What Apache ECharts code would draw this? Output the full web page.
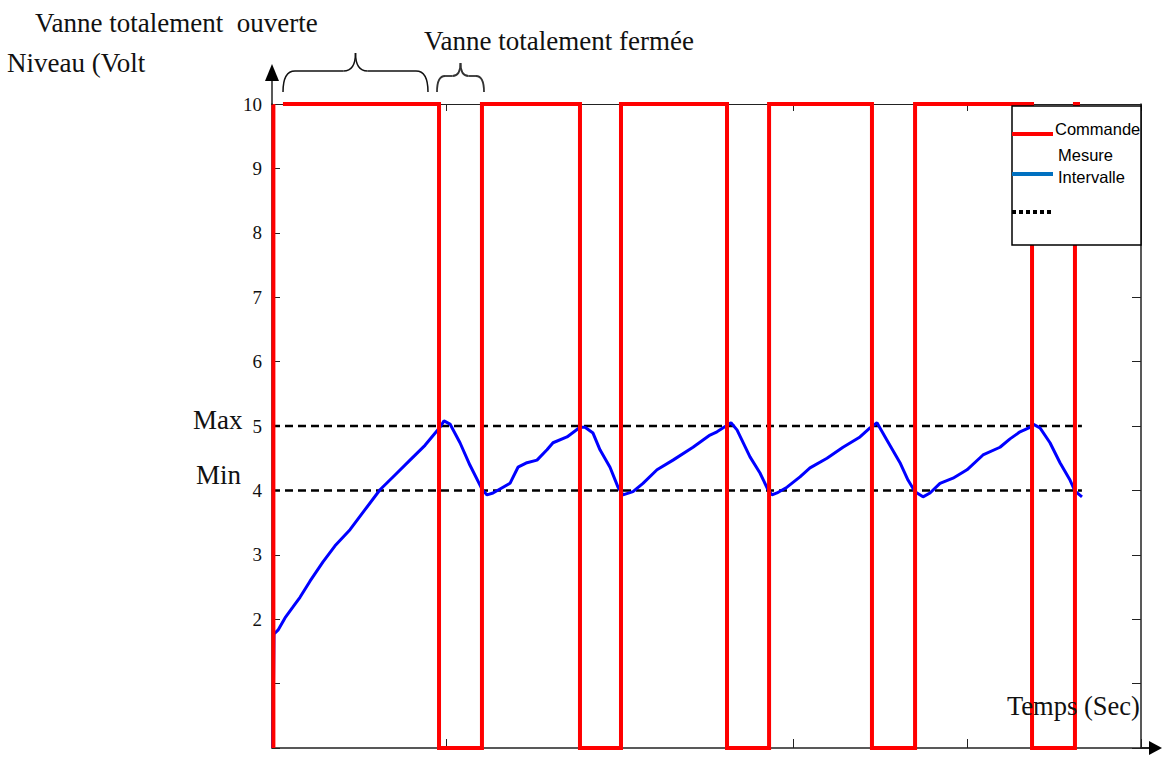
<!DOCTYPE html>
<html>
<head>
<meta charset="utf-8">
<script src="https://cdn.jsdelivr.net/npm/echarts@6/dist/echarts.min.js"></script>
<style>
html,body{margin:0;padding:0;background:#fff;}
#chart{width:1162px;height:758px;}
</style>
</head>
<body>
<div id="chart"></div>
<script>
// ---- Data (time axis in arbitrary seconds 0..500, level in volts) ----
var yTickLabels = ['', '', '2', '3', '4', '5', '6', '7', '8', '9', '10'];

// Commande (square wave): switch instants and level after each switch
var commandeTimes  = [0.8, 96.1, 120.8, 177.2, 200.8, 261.8, 286.0, 345.2, 370.0, 437.3, 462.0];
var commandeLevels = [10,   0,    10,    0,     10,    0,     10,    0,     10,    0,     10];
var commandeFirstTopStart = 6.3;   // first top segment visibly starts a little after the rise
var commandeEnd = 464.9;

// Mesure (measured level)
var mesureT = [0.5, 1.15, 3.45, 7.48, 12.08, 16.11, 21.86, 29.34, 36.25, 44.88, 53.51, 62.14, 70.77, 79.40, 88.03, 96.66, 98.96,
  102.42, 108.17, 113.92, 120.83, 123.71, 127.16, 136.94, 141.54, 146.72, 152.47, 158.23, 161.68, 169.74, 177.22, 180.09,
  184.70, 188.72, 194.48, 199.08, 201.96, 207.71, 213.46, 221.52, 230.72, 242.23, 252.01, 256.04, 264.10,
  267.55, 275.03, 280.78, 285.39, 287.69, 290.56, 296.32, 303.80, 309.55, 319.33, 328.54, 338.32, 344.07, 348.10,
  353.85, 361.33, 365.94, 369.97, 374.57, 378.60, 384.35, 391.83, 399.88, 409.09, 418.87, 424.63, 430.38, 436.13, 437.86,
  441.89, 447.64, 453.39, 459.15, 462.03, 466.05];
var mesureV = [0, 1.77, 1.83, 2.02, 2.19, 2.34, 2.59, 2.89, 3.14, 3.39, 3.70, 4.01, 4.24, 4.47, 4.70, 4.98, 5.08,
  5.03, 4.74, 4.39, 4.02, 3.93, 3.96, 4.11, 4.36, 4.43, 4.47, 4.63, 4.74, 4.83, 4.98, 4.98,
  4.89, 4.63, 4.36, 4.05, 3.93, 3.98, 4.11, 4.32, 4.47, 4.67, 4.86, 4.91, 5.05,
  4.94, 4.52, 4.27, 4.01, 3.93, 3.96, 4.05, 4.21, 4.35, 4.50, 4.67, 4.83, 4.97, 5.05,
  4.78, 4.43, 4.16, 3.98, 3.90, 3.96, 4.11, 4.19, 4.32, 4.55, 4.67, 4.80, 4.91, 4.98, 5.03,
  4.97, 4.74, 4.43, 4.16, 3.99, 3.90];

// Intervalle (Max / Min thresholds)
var intervalleLevels = [5, 4];
var intervalleStart = 0;
var intervalleEnd = 466;

// ---- Build series data ----
var commandeData = [[commandeTimes[0], 0], [commandeTimes[0], commandeLevels[0]],
                    [commandeTimes[0], null], [commandeFirstTopStart, commandeLevels[0]]];
for (var i = 1; i < commandeTimes.length; i++) {
  commandeData.push([commandeTimes[i], commandeLevels[i - 1]]);
  commandeData.push([commandeTimes[i], commandeLevels[i]]);
}
commandeData.push([commandeEnd, commandeLevels[commandeLevels.length - 1]]);

var mesureData = mesureT.map(function (t, k) { return [t, mesureV[k]]; });

var serif = 'Liberation Serif';
var chart = echarts.init(document.getElementById('chart'), null, {renderer: 'svg'});

var dashedSeries = intervalleLevels.map(function (lv) {
  return {
    name: 'Intervalle', type: 'line', showSymbol: false, silent: true, z: 2,
    data: [[intervalleStart, lv], [intervalleEnd, lv]],
    lineStyle: {color: '#000', width: 2.5, type: [8, 5]}
  };
});

// curly brace decoration built from curve pieces
function brace(x1, x2, yLine, yTip, yEnd, r, color, lw) {
  var xm = (x1 + x2) / 2;
  var st = {stroke: color, lineWidth: lw, fill: null};
  return [
    {type: 'bezierCurve', z: 100, shape: {x1: x1, y1: yEnd, cpx1: x1, cpy1: yLine, x2: x1 + r, y2: yLine}, style: st},
    {type: 'line', z: 100, shape: {x1: x1 + r, y1: yLine, x2: xm - r, y2: yLine}, style: st},
    {type: 'bezierCurve', z: 100, shape: {x1: xm - r, y1: yLine, cpx1: xm, cpy1: yLine, x2: xm, y2: yTip}, style: st},
    {type: 'bezierCurve', z: 100, shape: {x1: xm, y1: yTip, cpx1: xm, cpy1: yLine, x2: xm + r, y2: yLine}, style: st},
    {type: 'line', z: 100, shape: {x1: xm + r, y1: yLine, x2: x2 - r, y2: yLine}, style: st},
    {type: 'bezierCurve', z: 100, shape: {x1: x2 - r, y1: yLine, cpx1: x2, cpy1: yLine, x2: x2, y2: yEnd}, style: st}
  ];
}

var tf = '27px "Liberation Serif"';
var graphics = [
  // texts
  {type: 'text', left: 35, top: 9, z: 100, style: {text: 'Vanne totalement  ouverte', font: tf, fill: '#111'}},
  {type: 'text', left: 7, top: 49, z: 100, style: {text: 'Niveau (Volt', font: tf, fill: '#111'}},
  {type: 'text', left: 424, top: 27, z: 100, style: {text: 'Vanne totalement fermée', font: tf, fill: '#111'}},
  {type: 'text', left: 193, top: 406, z: 100, style: {text: 'Max', font: tf, fill: '#111'}},
  {type: 'text', left: 196, top: 461, z: 100, style: {text: 'Min', font: tf, fill: '#111'}},
  {type: 'text', left: 1007, top: 692, z: 100, style: {text: 'Temps (Sec)', font: '26.5px "Liberation Serif"', fill: '#111'}},
  // axis arrows
  {type: 'line', z: 100, shape: {x1: 272, y1: 105, x2: 272, y2: 78}, style: {stroke: '#222', lineWidth: 1.5}},
  {type: 'polygon', z: 100, shape: {points: [[265, 81], [279, 81], [272, 64]]}, style: {fill: '#000'}},
  {type: 'line', z: 100, shape: {x1: 1140, y1: 748, x2: 1152, y2: 748}, style: {stroke: '#222', lineWidth: 2}},
  {type: 'polygon', z: 100, shape: {points: [[1149, 741], [1149, 755], [1162, 748]]}, style: {fill: '#000'}},
  // legend box
  {type: 'rect', z: 100, shape: {x: 1012, y: 106, width: 129, height: 139}, style: {fill: '#fff', stroke: '#000', lineWidth: 1.5}},
  {type: 'line', z: 101, shape: {x1: 1012, y1: 134, x2: 1053, y2: 134}, style: {stroke: '#ff0000', lineWidth: 4}},
  {type: 'text', z: 101, left: 1055, top: 120, style: {text: 'Commande', font: '16.5px "Liberation Sans"', fill: '#000'}},
  {type: 'text', z: 101, left: 1058, top: 146, style: {text: 'Mesure', font: '16.5px "Liberation Sans"', fill: '#000'}},
  {type: 'line', z: 101, shape: {x1: 1012, y1: 174, x2: 1053, y2: 174}, style: {stroke: '#0070c0', lineWidth: 4}},
  {type: 'text', z: 101, left: 1058, top: 168, style: {text: 'Intervalle', font: '16.5px "Liberation Sans"', fill: '#000'}},
  {type: 'line', z: 101, shape: {x1: 1012, y1: 212, x2: 1053, y2: 212}, style: {stroke: '#000', lineWidth: 4, lineDash: [4, 3]}}
].concat(brace(283, 428, 71, 53, 92, 12, '#111', 1.5))
 .concat(brace(437, 484, 76, 63, 92, 8, '#333', 1.8));

var option = {
  backgroundColor: '#fff',
  animation: false,
  grid: {left: 272, right: 21, top: 104, bottom: 10, containLabel: false},
  xAxis: [{
    type: 'value', position: 'bottom', min: 0, max: 500, interval: 100,
    axisLine: {show: true, onZero: false, lineStyle: {color: '#222', width: 1.5}},
    axisTick: {show: true, inside: true, length: 9, lineStyle: {color: '#222', width: 1}},
    axisLabel: {show: false}, splitLine: {show: false}
  }, {
    type: 'value', position: 'top', min: 0, max: 500, interval: 100,
    axisLine: {show: true, onZero: false, lineStyle: {color: '#222', width: 1}},
    axisTick: {show: true, inside: true, length: 7, lineStyle: {color: '#222', width: 1}},
    axisLabel: {show: false}, splitLine: {show: false}
  }],
  yAxis: [{
    type: 'value', position: 'left', min: 0, max: 10, interval: 1,
    axisLine: {show: true, onZero: false, lineStyle: {color: '#222', width: 1.5}},
    axisTick: {show: true, inside: true, length: 8, lineStyle: {color: '#222', width: 1}},
    axisLabel: {
      show: true, margin: 10, color: '#111', fontFamily: serif, fontSize: 19,
      formatter: function (v) { return yTickLabels[Math.round(v)] || ''; }
    },
    splitLine: {show: false}
  }, {
    type: 'value', position: 'right', min: 0, max: 10, interval: 1,
    axisLine: {show: true, onZero: false, lineStyle: {color: '#222', width: 1.5}},
    axisTick: {show: true, inside: true, length: 9, lineStyle: {color: '#222', width: 1}},
    axisLabel: {show: false}, splitLine: {show: false}
  }],
  series: dashedSeries.concat([{
    name: 'Mesure', type: 'line', showSymbol: false, silent: true, z: 3,
    data: mesureData,
    lineStyle: {color: '#0000ff', width: 3}
  }, {
    name: 'Commande', type: 'line', showSymbol: false, silent: true, z: 4,
    connectNulls: false,
    data: commandeData,
    lineStyle: {color: '#ff0000', width: 4, join: 'miter'}
  }]),
  graphic: graphics
};
chart.setOption(option);
</script>
</body>
</html>
